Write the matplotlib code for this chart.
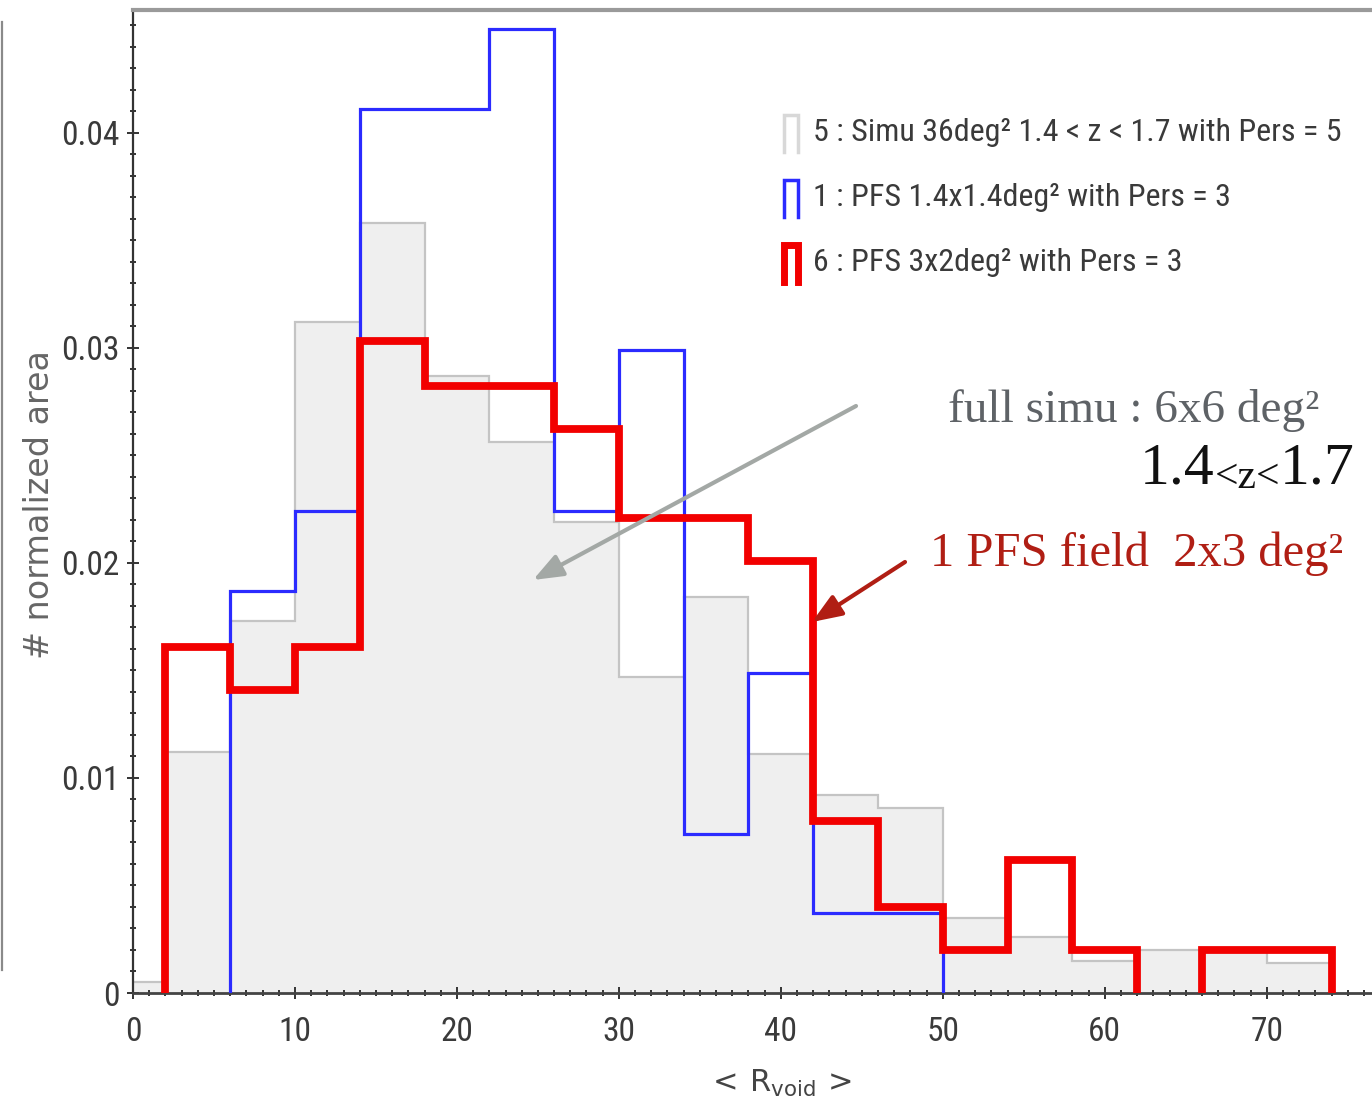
import numpy as np
import matplotlib
matplotlib.use('Agg')
import matplotlib.pyplot as plt
from matplotlib import font_manager as fm
from matplotlib.lines import Line2D
from matplotlib.legend_handler import HandlerBase
from matplotlib.ticker import MultipleLocator, FuncFormatter

# histogram data (bin width 4)
gray_edges = np.arange(-2, 75, 4)
gray_vals = [0.0005, 0.0112, 0.0173, 0.0312, 0.0358, 0.0287, 0.0256, 0.0219, 0.0147,
             0.0184, 0.0111, 0.0092, 0.0086, 0.0035, 0.0026, 0.0015, 0.0020, 0.0020, 0.0014]

blue_edges = np.arange(6, 51, 4)
blue_vals = [0.0187, 0.0224, 0.0411, 0.0411, 0.0448, 0.0224, 0.0299, 0.0074, 0.0149, 0.0037, 0.0037]

red_edges = np.arange(2, 75, 4)
red_vals = [0.0161, 0.0141, 0.0161, 0.0303, 0.0282, 0.0282, 0.0262, 0.0221, 0.0221,
            0.0201, 0.0080, 0.0040, 0.0020, 0.0062, 0.0020, 0.0, 0.0020, 0.0020]

labels = ['5 : Simu 36deg² 1.4 < z < 1.7 with Pers = 5',
          '1 : PFS 1.4x1.4deg² with Pers = 3',
          '6 : PFS 3x2deg² with Pers = 3']

serif = ['Liberation Serif', 'DejaVu Serif']

c_gray_fill = '#efefef'
c_gray_edge = '#c4c4c4'
c_blue = '#2b2bff'
c_red = '#f20000'
c_darkred = '#b01e14'


def find_narrow():
    # look for a condensed sans face, the original labels are very narrow
    prefs = ['Liberation Sans Narrow', 'Roboto Condensed', 'Noto Sans', 'Open Sans',
             'DejaVu Sans', 'Lato', 'Inter']
    found = []
    for f in fm.fontManager.ttflist:
        narrowish = ('Narrow' in f.name or 'Condensed' in f.name or
                     str(f.stretch) in ('condensed', 'semi-condensed', 'extra-condensed'))
        if not narrowish or f.style != 'normal':
            continue
        if f.weight not in (400, 'normal', 'regular', 'book'):
            continue
        if 'Mono' in f.name or 'Extra' in f.fname or 'Semi' in f.fname:
            continue
        rank = len(prefs)
        for i, p in enumerate(prefs):
            if f.name.startswith(p):
                rank = i
                break
        found.append((rank, f.fname))
    if found:
        found.sort()
        return fm.FontProperties(fname=found[0][1]), True
    return fm.FontProperties(family=['Roboto', 'DejaVu Sans']), False


narrow_fp, is_narrow = find_narrow()
tick_size = 24 if is_narrow else 20
leg_size = 23 if is_narrow else 19


class StepHandler(HandlerBase):
    # little histogram-bar glyph used in the legend
    def __init__(self, color, lw):
        super().__init__()
        self.color = color
        self.lw = lw

    def create_artists(self, legend, orig_handle, xdescent, ydescent, width, height, fontsize, trans):
        x0, x1 = -xdescent, -xdescent + width
        y0, y1 = -ydescent - 0.25 * height, -ydescent + height * 1.05
        ln = Line2D([x0, x0, x1, x1], [y0, y1, y1, y0], color=self.color, lw=self.lw,
                    solid_joinstyle='miter', transform=trans)
        return [ln]


def red_segments(edges, vals):
    # split red histogram where bins are empty so nothing is drawn along the axis
    vals = np.asarray(vals)
    segs = []
    start = None
    for i, v in enumerate(vals):
        if v > 0 and start is None:
            start = i
        if v == 0 and start is not None:
            segs.append((start, i))
            start = None
    if start is not None:
        segs.append((start, len(vals)))
    return [(edges[a:b + 1], vals[a:b]) for a, b in segs]


fig = plt.figure(figsize=(13.72, 10.97), dpi=100)
ax = fig.add_axes([133 / 1372, 1 - 993 / 1097, 1 - 133 / 1372, (993 - 10) / 1097])

ax.stairs(gray_vals, gray_edges, fill=True, color=c_gray_fill, zorder=1)
ax.stairs(gray_vals, gray_edges, fill=False, color=c_gray_edge, lw=1.6, zorder=2)
ax.stairs(blue_vals, blue_edges, color=c_blue, lw=2.3, zorder=3)
for e, v in red_segments(red_edges, red_vals):
    ax.stairs(v, e, color=c_red, lw=5.6, zorder=4)

ax.set_xlim(0, 76.5)
ax.set_ylim(0, 0.0457)

ax.xaxis.set_major_locator(MultipleLocator(10))
ax.xaxis.set_minor_locator(MultipleLocator(1))
ax.yaxis.set_major_locator(MultipleLocator(0.01))
ax.yaxis.set_minor_locator(MultipleLocator(0.001))
ax.yaxis.set_major_formatter(FuncFormatter(lambda v, p: '0' if abs(v) < 1e-9 else '%.2f' % v))

ax.tick_params(which='both', direction='inout', colors='#333333', width=1.4,
               labelcolor='#3a3a3a')
ax.tick_params(which='major', length=9)
ax.tick_params(which='minor', length=5)
ax.tick_params(axis='x', pad=12)
ax.tick_params(axis='y', pad=5)
for lab in ax.get_xticklabels() + ax.get_yticklabels():
    lab.set_fontproperties(narrow_fp)
    lab.set_fontsize(tick_size)

ax.spines['right'].set_visible(False)
ax.spines['left'].set_color('#333333')
ax.spines['left'].set_linewidth(1.6)
ax.spines['bottom'].set_color('#444444')
ax.spines['bottom'].set_linewidth(2.0)
ax.spines['top'].set_color('#9a9a9a')
ax.spines['top'].set_linewidth(3.0)

# legend
leg_fp = narrow_fp.copy()
leg_fp.set_size(leg_size)
h = [Line2D([], []), Line2D([], []), Line2D([], [])]
leg = ax.legend(h, labels, loc='upper left', bbox_to_anchor=(784 / 1372, 1 - 116 / 1097),
                bbox_transform=fig.transFigure, frameon=False, borderpad=0, borderaxespad=0,
                handlelength=0.45, handleheight=1.0, handletextpad=0.45, labelspacing=1.06,
                prop=leg_fp,
                handler_map={h[0]: StepHandler('#d8d8d8', 2.5),
                             h[1]: StepHandler(c_blue, 2.5),
                             h[2]: StepHandler(c_red, 5.0)})
for t in leg.get_texts():
    t.set_color('#3a3a3a')

# axis labels
fig.text(40 / 1372, 1 - 505 / 1097, '# normalized area', rotation=90, ha='center', va='center',
         fontsize=24, color='#666666', family='DejaVu Sans')
fig.text(780 / 1372, 1 - 1092 / 1097, r'$<\,\mathrm{R}_{\mathrm{void}}\,>$', ha='center',
         va='baseline', fontsize=22, color='#444444')

# annotations
fig.text(948 / 1372, 1 - 422 / 1097, 'full simu : 6x6 deg²', family=serif, fontsize=34,
         color='#5e6266', va='baseline', ha='left')
t1 = fig.text(1140 / 1372, 1 - 497 / 1097, '1.4', family=serif, fontsize=43, color='#111111',
              va='bottom', ha='left')
t2 = ax.annotate('<z<', xy=(1, 0), xycoords=t1, fontsize=30, family=serif, color='#111111',
                 va='bottom', ha='left')
ax.annotate('1.7', xy=(1, 0), xycoords=t2, fontsize=43, family=serif, color='#111111',
            va='bottom', ha='left')
fig.text(930 / 1372, 1 - 566 / 1097, '1 PFS field  2x3 deg²', family=serif, fontsize=35,
         color=c_darkred, va='baseline', ha='left')

ax.annotate('', xy=(533 / 1372, 1 - 580 / 1097), xytext=(856 / 1372, 1 - 406 / 1097),
            xycoords='figure fraction', textcoords='figure fraction',
            arrowprops=dict(arrowstyle='-|>,head_length=1.8,head_width=0.7', color='#a3a8a5',
                            lw=3.0, shrinkA=0, shrinkB=0), zorder=6)
ax.annotate('', xy=(812 / 1372, 1 - 622 / 1097), xytext=(905 / 1372, 1 - 562 / 1097),
            xycoords='figure fraction', textcoords='figure fraction',
            arrowprops=dict(arrowstyle='-|>,head_length=1.8,head_width=0.7', color=c_darkred,
                            lw=3.0, shrinkA=0, shrinkB=0), zorder=6)

# frame line at the far left of the slide
fig.add_artist(Line2D([1.5 / 1372, 1.5 / 1372], [1 - 22 / 1097, 1 - 970 / 1097],
                      transform=fig.transFigure, color='#8a8a8a', lw=1.6))

fig.savefig('out.png', dpi=100)
